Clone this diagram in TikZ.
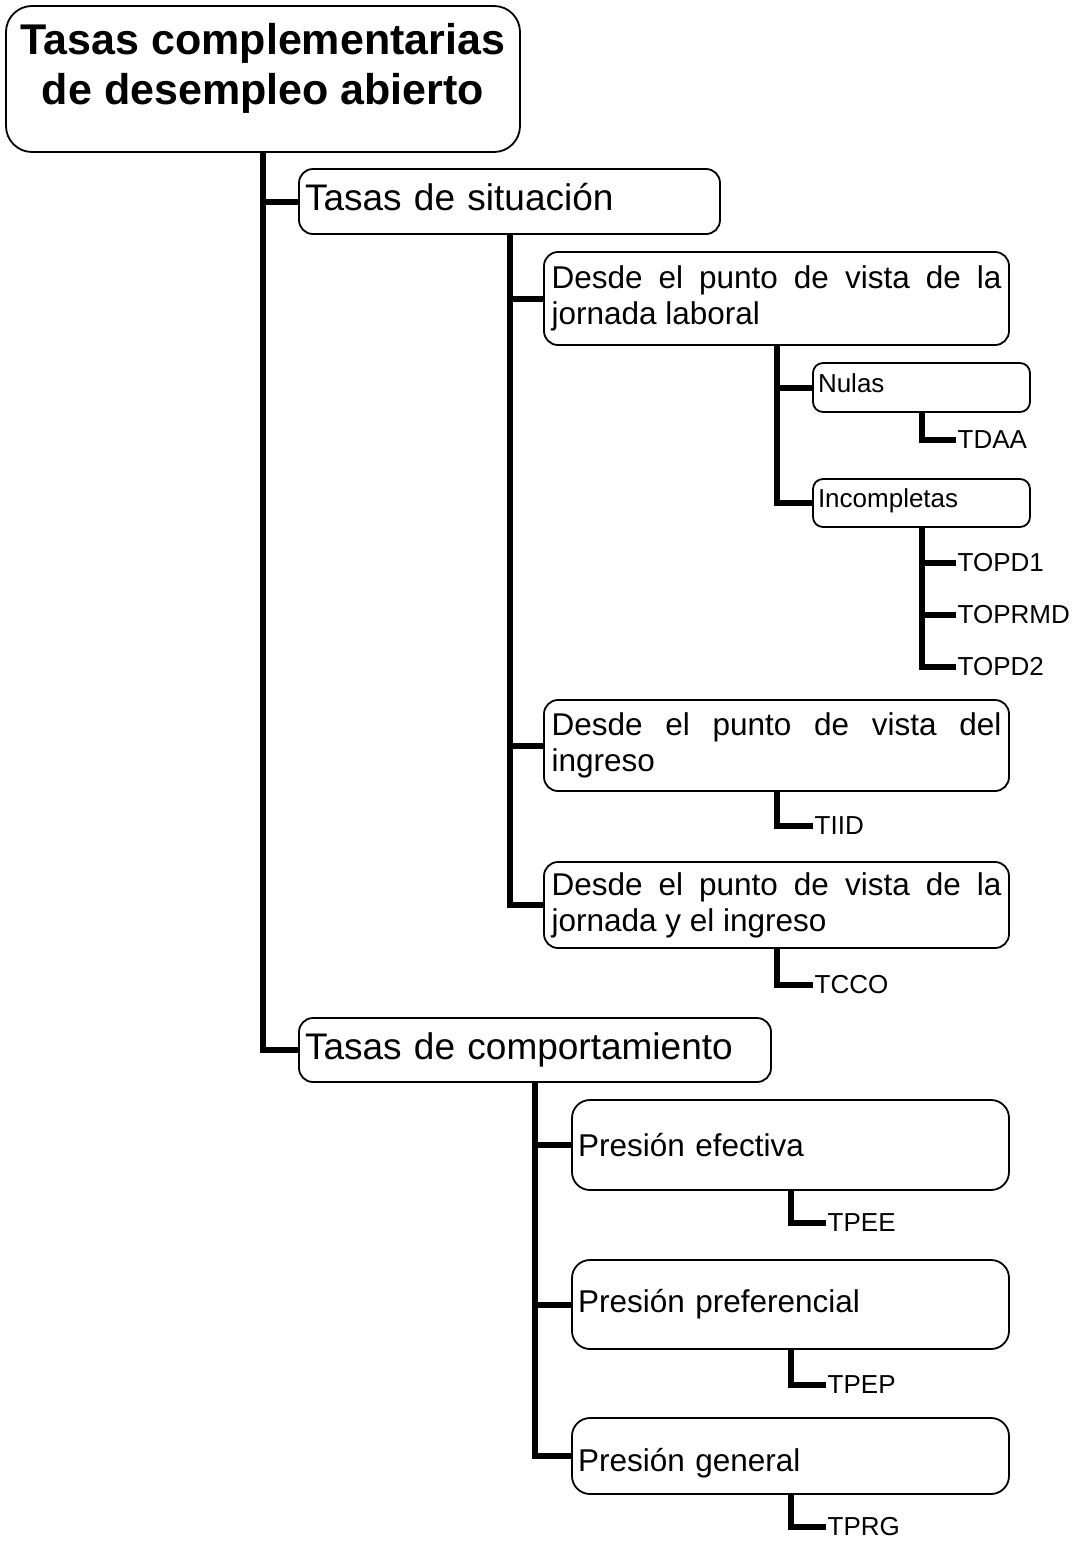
\documentclass[tikz,border=0pt]{standalone}
\usepackage{fontspec}
\setmainfont{Liberation Sans}
\begin{document}
\begin{tikzpicture}[x=1pt,y=-1pt,
  box/.style={draw, line width=1.8pt, rounded corners=14pt, inner xsep=6pt, inner ysep=0pt, align=left, anchor=center},
  bigtxt/.style={font=\fontsize{37}{44}\selectfont},
  midtxt/.style={font=\fontsize{31.5}{36}\selectfont},
  smalltxt/.style={font=\fontsize{26}{30}\selectfont},
  conn/.style={line width=6pt},
  leaf/.style={anchor=west, inner xsep=1.5pt, inner ysep=0pt, font=\fontsize{26}{30}\selectfont},
]
\useasboundingbox (0,0) rectangle (1078,1542);

% title
\node[box, rounded corners=26pt, minimum width=514pt, minimum height=146pt, inner sep=0pt] (title) at (263,79)
  {\parbox[c][146pt][t]{514pt}{\centering\bfseries\fontsize{43}{50}\selectfont\vspace*{17pt}Tasas complementarias\\de desempleo abierto}};

% level 1
\node[box, bigtxt, minimum width=421pt, minimum height=65pt, text width=409pt, text height=27pt, text depth=10pt] (sit) at (509.5,201.5) {Tasas de situación};
\node[box, bigtxt, minimum width=472pt, minimum height=64pt, text width=460pt] (comp) at (535,1050) {Tasas de comportamiento};

% level 2 (situacion)
\node[box, minimum width=465pt, minimum height=93pt, inner xsep=7.5pt] (d1) at (776.5,298.5)
  {\parbox{450pt}{\fontsize{31.5}{36}\selectfont Desde el punto de vista de la\linebreak jornada laboral}};
\node[box, minimum width=465pt, minimum height=91pt, inner xsep=7.5pt] (d2) at (776.5,745.5)
  {\parbox{450pt}{\fontsize{31.5}{36}\selectfont Desde el punto de vista del\linebreak ingreso}};
\node[box, minimum width=465pt, minimum height=86pt, inner xsep=7.5pt] (d3) at (776.5,905)
  {\parbox{450pt}{\fontsize{31.5}{36}\selectfont Desde el punto de vista de la\linebreak jornada y el ingreso}};

% level 3
\node[box, smalltxt, rounded corners=10pt, minimum width=217pt, minimum height=49pt, text width=207pt, inner xsep=5pt, text height=19pt, text depth=10pt] (nul) at (921.5,387.5) {Nulas};
\node[box, smalltxt, rounded corners=10pt, minimum width=217pt, minimum height=48pt, text width=207pt, inner xsep=5pt, text height=19pt, text depth=11pt] (inc) at (921.5,503) {Incompletas};

% level 2 (comportamiento)
\node[box, midtxt, rounded corners=18pt, minimum width=437pt, minimum height=90pt, text width=425pt] (pe) at (790.5,1145) {Presión efectiva};
\node[box, midtxt, rounded corners=18pt, minimum width=437pt, minimum height=89pt, text width=425pt] (pp) at (790.5,1304.5) {Presión preferencial};
\node[box, midtxt, rounded corners=18pt, minimum width=437pt, minimum height=76pt, text width=425pt, text height=38pt, text depth=7pt] (pg) at (790.5,1456) {Presión general};

% leaves
\node[leaf] (tdaa) at (956,440) {TDAA};
\node[leaf] (topd1) at (956,563) {TOPD1};
\node[leaf] (toprmd) at (956,615) {TOPRMD};
\node[leaf] (topd2) at (956,667) {TOPD2};
\node[leaf] (tiid) at (813,826) {TIID};
\node[leaf] (tcco) at (813,985) {TCCO};
\node[leaf] (tpee) at (826,1223) {TPEE};
\node[leaf] (tpep) at (826,1385) {TPEP};
\node[leaf] (tprg) at (826,1527) {TPRG};

% connectors
\draw[conn] (title.south) |- (sit.west);
\draw[conn] (title.south) |- (comp.west);
\draw[conn] (sit.south) |- (d1.west);
\draw[conn] (sit.south) |- (d2.west);
\draw[conn] (sit.south) |- (d3.west);
\draw[conn] (d1.south) |- (nul.west);
\draw[conn] (d1.south) |- (inc.west);
\draw[conn] (nul.south) |- (tdaa.west);
\draw[conn] (inc.south) |- (topd1.west);
\draw[conn] (inc.south) |- (toprmd.west);
\draw[conn] (inc.south) |- (topd2.west);
\draw[conn] (d2.south) |- (tiid.west);
\draw[conn] (d3.south) |- (tcco.west);
\draw[conn] (comp.south) |- (pe.west);
\draw[conn] (comp.south) |- (pp.west);
\draw[conn] (comp.south) |- (pg.west);
\draw[conn] (pe.south) |- (tpee.west);
\draw[conn] (pp.south) |- (tpep.west);
\draw[conn] (pg.south) |- (tprg.west);
\end{tikzpicture}
\end{document}
